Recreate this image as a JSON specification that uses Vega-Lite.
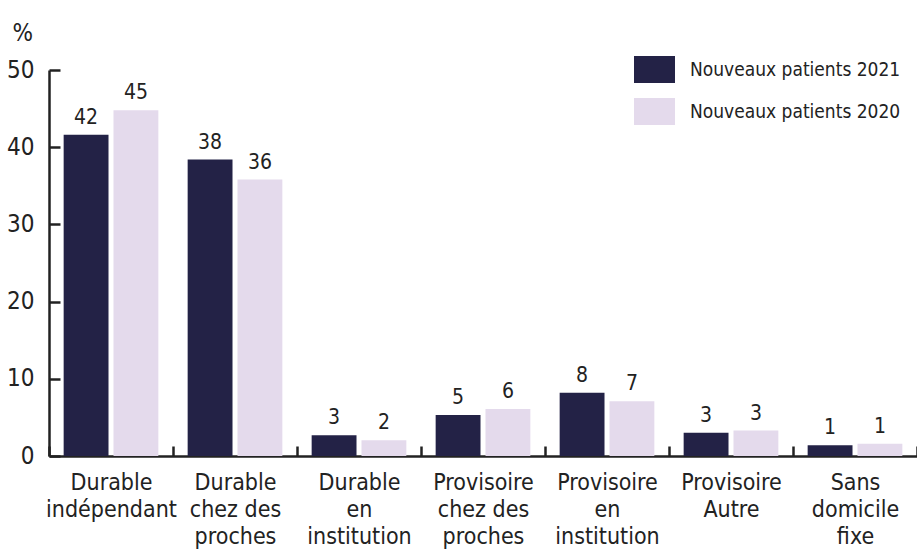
{
  "$schema": "https://vega.github.io/schema/vega-lite/v6.json",
  "width": 868,
  "height": 386,
  "autosize": {"type": "none"},
  "padding": {"left": 49, "top": 70, "right": 0, "bottom": 96},
  "background": "white",
  "config": {
    "font": "DejaVu Sans Condensed, Roboto, sans-serif",
    "view": {"stroke": null}
  },
  "data": {
    "values": [
      {"cat": "Durable|indépendant", "serie": "Nouveaux patients 2021", "value": 41.6, "label": "42"},
      {"cat": "Durable|indépendant", "serie": "Nouveaux patients 2020", "value": 44.8, "label": "45"},
      {"cat": "Durable|chez des|proches", "serie": "Nouveaux patients 2021", "value": 38.4, "label": "38"},
      {"cat": "Durable|chez des|proches", "serie": "Nouveaux patients 2020", "value": 35.8, "label": "36"},
      {"cat": "Durable|en|institution", "serie": "Nouveaux patients 2021", "value": 2.7, "label": "3"},
      {"cat": "Durable|en|institution", "serie": "Nouveaux patients 2020", "value": 2.05, "label": "2"},
      {"cat": "Provisoire|chez des|proches", "serie": "Nouveaux patients 2021", "value": 5.3, "label": "5"},
      {"cat": "Provisoire|chez des|proches", "serie": "Nouveaux patients 2020", "value": 6.1, "label": "6"},
      {"cat": "Provisoire|en|institution", "serie": "Nouveaux patients 2021", "value": 8.2, "label": "8"},
      {"cat": "Provisoire|en|institution", "serie": "Nouveaux patients 2020", "value": 7.1, "label": "7"},
      {"cat": "Provisoire|Autre", "serie": "Nouveaux patients 2021", "value": 3.0, "label": "3"},
      {"cat": "Provisoire|Autre", "serie": "Nouveaux patients 2020", "value": 3.3, "label": "3"},
      {"cat": "Sans|domicile|fixe", "serie": "Nouveaux patients 2021", "value": 1.4, "label": "1"},
      {"cat": "Sans|domicile|fixe", "serie": "Nouveaux patients 2020", "value": 1.6, "label": "1"}
    ]
  },
  "encoding": {
    "x": {
      "field": "cat",
      "type": "nominal",
      "sort": null,
      "scale": {"paddingInner": 0, "paddingOuter": 0},
      "axis": {
        "title": null,
        "labelAngle": 0,
        "labelExpr": "split(datum.label, '|')",
        "labelFontSize": 23,
        "labelLineHeight": 27,
        "labelColor": "#222222",
        "labelBaseline": "top",
        "labelPadding": 25,
        "labelLimit": 200,
        "tickBand": "extent",
        "tickSize": -10,
        "tickWidth": 2.5,
        "tickColor": "#222222",
        "domainColor": "#222222",
        "domainWidth": 2.5
      }
    },
    "xOffset": {
      "field": "serie",
      "type": "nominal",
      "sort": ["Nouveaux patients 2021", "Nouveaux patients 2020"],
      "scale": {"paddingInner": 0.1, "paddingOuter": 0.294}
    },
    "y": {
      "field": "value",
      "type": "quantitative",
      "scale": {"domain": [0, 50]},
      "axis": {
        "values": [0, 10, 20, 30, 40, 50],
        "grid": false,
        "title": "%",
        "titleAngle": 0,
        "titleAlign": "left",
        "titleBaseline": "alphabetic",
        "titleX": -37,
        "titleY": -30,
        "titleFontSize": 24,
        "titleFontWeight": "normal",
        "titleColor": "#222222",
        "labelFontSize": 24,
        "labelColor": "#222222",
        "labelPadding": 26,
        "tickSize": -11,
        "tickWidth": 2.5,
        "tickColor": "#222222",
        "domainColor": "#222222",
        "domainWidth": 2.5
      }
    }
  },
  "layer": [
    {
      "mark": {"type": "bar"},
      "encoding": {
        "color": {
          "field": "serie",
          "type": "nominal",
          "scale": {
            "domain": ["Nouveaux patients 2021", "Nouveaux patients 2020"],
            "range": ["#232246", "#e4daec"]
          },
          "legend": {
            "title": null,
            "orient": "none",
            "legendX": 585,
            "legendY": -21,
            "padding": 0,
            "symbolType": "M-1,-0.66H1V0.66H-1Z",
            "symbolSize": 1681,
            "symbolStrokeWidth": 0,
            "labelFontSize": 19,
            "labelLimit": 300,
            "labelColor": "#222222",
            "labelOffset": 15,
            "rowPadding": 7
          }
        }
      }
    },
    {
      "mark": {"type": "text", "baseline": "alphabetic", "dy": -11, "fontSize": 21, "color": "#222222"},
      "encoding": {
        "text": {"field": "label"}
      }
    }
  ]
}
